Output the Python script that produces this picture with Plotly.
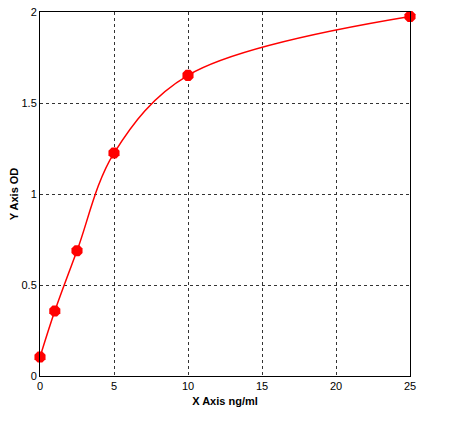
import plotly.graph_objects as go

x_vals = [0, 1, 2.5, 5, 10, 25]
y_vals = [0.104, 0.357, 0.688, 1.225, 1.652, 1.975]
x_ticks = [0, 5, 10, 15, 20, 25]
y_ticks = [0, 0.5, 1, 1.5, 2]
y_tick_text = ["0", "0.5", "1", "1.5", "2"]

fig = go.Figure()
fig.add_trace(go.Scatter(
    x=x_vals, y=y_vals, mode="lines",
    line=dict(color="#ff0000", width=1.5, shape="spline", smoothing=1.0),
    hoverinfo="skip", showlegend=False))
fig.add_trace(go.Scatter(
    x=x_vals, y=y_vals, mode="markers",
    marker=dict(color="#ff0000", size=12, symbol="octagon", line=dict(width=0)),
    showlegend=False, cliponaxis=False))

font = dict(family="Liberation Sans, Arial", size=11, color="black")
axis_common = dict(
    showline=True, linecolor="black", linewidth=1, mirror=True,
    showgrid=True, gridcolor="#333333", gridwidth=1, griddash="3px,3px",
    zeroline=False, ticks="", tickfont=font, automargin=False,
    ticklabeloverflow="allow",
)
fig.update_xaxes(range=[0, 25], tickvals=x_ticks,
                 title=dict(text="<b>X Axis ng/ml</b>", font=font, standoff=6),
                 **axis_common)
fig.update_yaxes(range=[0, 2], tickvals=y_ticks, ticktext=y_tick_text,
                 title=dict(text="<b>Y Axis OD</b>", font=font, standoff=0),
                 **axis_common)
fig.update_layout(
    width=461, height=421,
    margin=dict(l=40, r=51, t=12, b=45),
    plot_bgcolor="white", paper_bgcolor="white",
)
fig.write_html("out.html", config={"displayModeBar": False},
               post_script="document.body.style.margin='0';")
